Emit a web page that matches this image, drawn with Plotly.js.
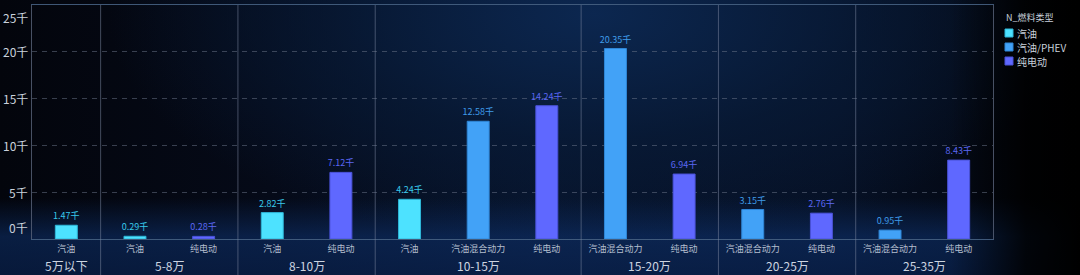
<!DOCTYPE html>
<html>
<head>
<meta charset="utf-8">
<script src="https://cdn.plot.ly/plotly-3.0.1.min.js"></script>
<style>
html,body{margin:0;padding:0;background:#000;}
#wrap{position:relative;width:1080px;height:275px;overflow:hidden;
background:
 linear-gradient(to right, rgba(0,0,0,0) 88%, rgba(0,0,0,0.85) 95%, #000 100%),
 linear-gradient(to bottom, rgba(0,0,0,0) 72%, rgba(14,50,110,0.55) 86%, rgba(10,38,88,0.6) 100%),
 radial-gradient(ellipse 45% 85% at 55% 5%, rgba(12,40,82,0.95) 0%, rgba(8,28,58,0.65) 55%, rgba(0,0,0,0) 100%),
 linear-gradient(to right, #03050c 0%, #050a18 25%, #07132a 50%, #061024 78%, #02040a 100%);
}
#chart{position:absolute;left:0;top:0;width:1080px;height:275px;}
</style>
</head>
<body>
<div id="wrap"><div id="chart"></div></div>
<script>
// ---- data ----
const groups = ['5万以下','5-8万','8-10万','10-15万','15-20万','20-25万','25-35万'];
const groupSizes = [1,2,2,3,2,2,2];
const subLabels = ['汽油','汽油','纯电动','汽油','纯电动','汽油','汽油混合动力','纯电动','汽油混合动力','纯电动','汽油混合动力','纯电动','汽油混合动力','纯电动'];
const values = [1.47,0.29,0.28,2.82,7.12,4.24,12.58,14.24,20.35,6.94,3.15,2.76,0.95,8.43];
const seriesNames = ['汽油','汽油/PHEV','纯电动'];
const seriesOfLabel = {'汽油':'汽油','汽油混合动力':'汽油/PHEV','纯电动':'纯电动'};
const yTicks = [0,5,10,15,20,25];
const legendTitle = 'N_燃料类型';

// ---- styles ----
const barColors = {'汽油':'#4de2ff','汽油/PHEV':'#42a2f7','纯电动':'#5f68ff'};
const lineColors = {'汽油':'#2fb7d8','汽油/PHEV':'#2f86d6','纯电动':'#4a52d8'};
const textColors = {'汽油':'#38c9ea','汽油/PHEV':'#3f9be8','纯电动':'#5b67f2'};
const FONT = 'Noto Sans CJK SC, Noto Sans, sans-serif';

const M = {l:32, r:87, t:5, b:36};
const W = 1080, H = 275;
const pw = W - M.l - M.r, ph = H - M.t - M.b;
const px2x = p => (p - M.l) / pw;
const py2y = p => (H - M.b - p) / ph;

const slots = subLabels.map((_,i)=>i);
const traces = seriesNames.map(name=>{
  const xs=[], ys=[];
  subLabels.forEach((l,i)=>{ if(seriesOfLabel[l]===name){ xs.push(i); ys.push(values[i]); }});
  return {
    type:'bar', name:name, x:xs, y:ys, width:0.32,
    marker:{color:barColors[name], line:{color:lineColors[name], width:1}},
    texttemplate:'%{y:.2f}千', textposition:'outside', cliponaxis:false, constraintext:'none',
    textfont:{size:9, color:textColors[name], family:FONT},
    hoverinfo:'x+y', showlegend:false
  };
});

const shapes=[]; const annotations=[];
let start=0;
groups.forEach((g,gi)=>{
  const end=start+groupSizes[gi];
  if(gi>0){
    shapes.push({type:'line', xref:'x', yref:'paper', x0:start-0.5, x1:start-0.5, y0:-0.16, y1:1,
      line:{color:'rgba(120,132,156,0.55)', width:1}, layer:'above'});
  }
  annotations.push({xref:'x', yref:'paper', x:(start+end-1)/2, y:-0.112, yanchor:'middle', xanchor:'center',
    text:g, showarrow:false, font:{size:12, color:'#ccd4e0', family:FONT}});
  start=end;
});
yTicks.forEach((v,i)=>{
  let ys=0;
  if(i===0) ys=12;
  if(i===yTicks.length-1) ys=-12;
  annotations.push({xref:'paper', yref:'y', x:0, y:v, xanchor:'right', yanchor:'middle', xshift:-2, yshift:ys,
    text:v+'千', showarrow:false, font:{size:12, color:'#c9d1dc', family:FONT}});
});

// legend (drawn with text annotations and small squares)
annotations.push({xref:'paper', yref:'paper', x:px2x(1004), y:py2y(17), xanchor:'left', yanchor:'middle',
  text:legendTitle, showarrow:false, font:{size:9, color:'#c9d1dc', family:FONT}});
seriesNames.forEach((name,i)=>{
  const cy = 33 + i*14;
  shapes.push({type:'rect', xref:'paper', yref:'paper', x0:px2x(1005), x1:px2x(1013), y0:py2y(cy+4), y1:py2y(cy-4),
    fillcolor:barColors[name], line:{color:lineColors[name], width:1}});
  annotations.push({xref:'paper', yref:'paper', x:px2x(1015), y:py2y(cy), xanchor:'left', yanchor:'middle',
    text:name, showarrow:false, font:{size:10, color:'#c9d1dc', family:FONT}});
});

const layout = {
  width:W, height:H,
  margin:Object.assign({autoexpand:false}, M),
  paper_bgcolor:'rgba(0,0,0,0)', plot_bgcolor:'rgba(0,0,0,0)',
  barmode:'overlay',
  font:{family:FONT, color:'#c9d1dc'},
  showlegend:false,
  xaxis:{type:'linear', range:[-0.5, subLabels.length-0.5], tickvals:slots, ticktext:subLabels,
    tickfont:{size:9, color:'#b4bece', family:FONT}, ticks:'outside', ticklen:1, tickcolor:'rgba(0,0,0,0)',
    showgrid:false, zeroline:false, showline:true, linecolor:'rgba(70,96,130,0.9)', linewidth:1, mirror:true, fixedrange:true},
  yaxis:{range:[0,25], tickvals:yTicks, showticklabels:false, showgrid:true, gridcolor:'rgba(110,120,140,0.5)',
    griddash:'5px,5px', gridwidth:1, zeroline:false, showline:true, linecolor:'rgba(90,100,122,0.8)', mirror:true, fixedrange:true},
  shapes:shapes, annotations:annotations
};
Plotly.newPlot('chart', traces, layout, {displayModeBar:false, staticPlot:true});
</script>
</body>
</html>
